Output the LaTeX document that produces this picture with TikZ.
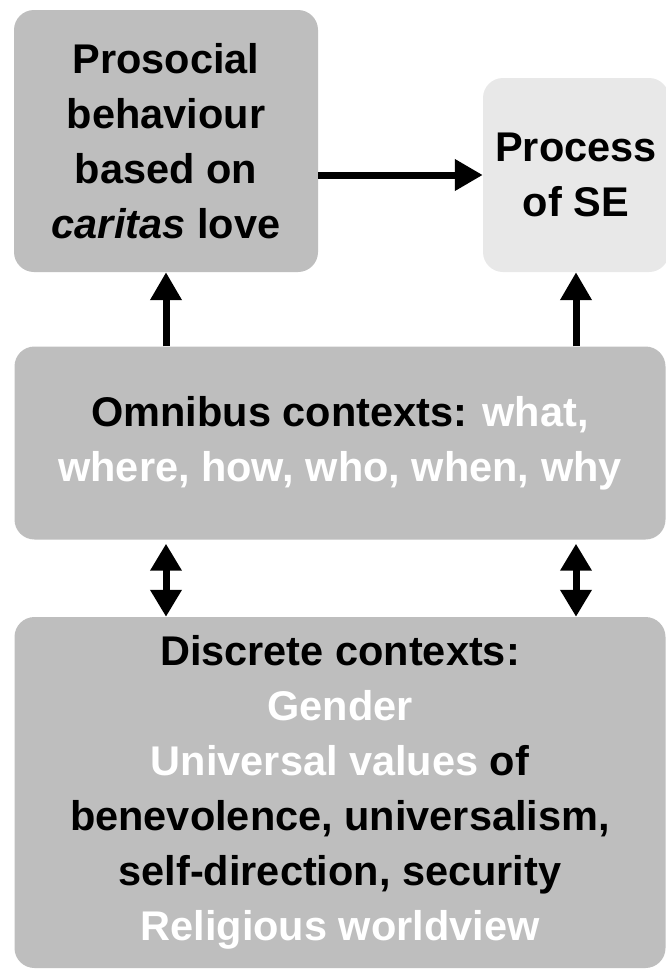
\documentclass[tikz,border=0pt]{standalone}
\usepackage{fontspec}
\setmainfont{Liberation Sans}
\usetikzlibrary{arrows.meta}
\definecolor{boxgray}{RGB}{190,190,190}
\definecolor{lightbox}{RGB}{232,232,232}
\begin{document}
\begin{tikzpicture}[x=1pt,y=-1pt,
  box/.style={fill=boxgray,draw=none,rounded corners=20pt,inner sep=0pt,
    align=center,font=\fontsize{41.5}{55}\selectfont\bfseries},
  lightbox/.style={box,fill=lightbox},
  tip/.style={Triangle[length=28pt,width=30pt]},
  link/.style={line width=7pt,-{Triangle[length=28pt,width=30pt]}},
  duallink/.style={line width=7pt,{Triangle[length=27pt,width=30pt]}-{Triangle[length=27pt,width=30pt]},shorten <=4pt}]
\useasboundingbox (0,0) rectangle (666,969);
\clip (0,0) rectangle (666,969);
\fill[white] (0,0) rectangle (666,969);

\node[box,minimum width=304pt,minimum height=262pt] (pro) at (166,141)
  {Prosocial\\behaviour\\based on\\\textit{caritas} love};
\node[lightbox,minimum width=186pt,minimum height=194pt] (se) at (576,175)
  {Process\\of SE};
\node[box,minimum width=651pt,minimum height=193pt] (omni) at (340,443)
  {Omnibus contexts: \textcolor{white}{what,}\\\textcolor{white}{where, how, who, when, why}};
\node[box,minimum width=651pt,minimum height=351pt] (disc) at (340,792.5)
  {Discrete contexts:\\\textcolor{white}{Gender}\\\textcolor{white}{Universal values} of\\benevolence, universalism,\\self-direction, security\\\textcolor{white}{Religious worldview}};

\draw[link] (pro.east |- se.west) -- (se.west);
\draw[link] (omni.north -| pro.south) -- (pro.south);
\draw[link] (omni.north -| se.south) -- (se.south);
\draw[duallink] (omni.south -| pro.south) -- (disc.north -| pro.south);
\draw[duallink] (omni.south -| se.south) -- (disc.north -| se.south);
\end{tikzpicture}
\end{document}
